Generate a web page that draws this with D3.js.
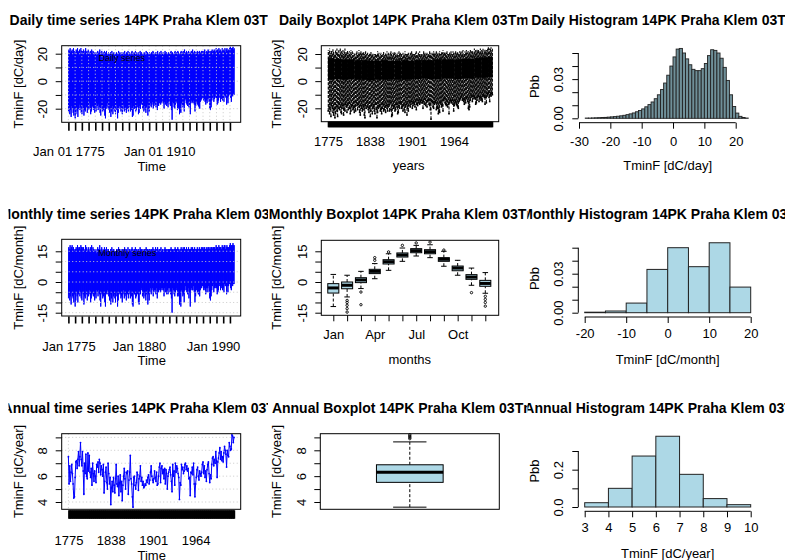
<!DOCTYPE html>
<html><head><meta charset="utf-8">
<script src="https://d3js.org/d3.v7.min.js"></script>
<style>
html,body{margin:0;padding:0;background:#fff;}
svg{display:block;font-family:"Liberation Sans",Arial,Helvetica,sans-serif;}
</style></head><body>
<svg id="chart" width="785" height="560"></svg>
<script>
// ---------------- DATA ----------------
const firstYear = 1775;
// annual extremes of the daily series (dC/day), 1775..2021
const dailyMax = [
23,22,24,21,22,23,21,24,22,20, 21,23,22,24,21,22,23,20,24,22,
22,21,23,20,22,24,21,22,20,23, 21,20,22,21,23,20,22,21,19,21,
20,19,21,22,20,21,23,20,21,22, 20,21,19,22,20,21,22,20,19,21,
20,19,21,20,22,19,20,21,19,20, 19,21,20,19,22,20,21,19,20,21,
20,19,21,22,20,19,21,20,22,19, 21,20,19,21,22,20,19,21,20,22,
20,21,19,20,21,19,22,20,21,19, 20,19,21,20,19,22,20,21,19,20,
21,20,19,21,20,22,21,19,20,21, 20,21,22,19,20,21,20,22,19,20,
21,19,20,22,20,21,19,20,21,20, 20,21,22,20,21,19,20,21,22,20,
21,20,22,21,20,19,21,22,20,21, 22,21,23,20,21,22,20,21,22,20,
21,20,22,21,23,20,21,22,21,20, 21,22,20,21,22,21,20,22,21,22,
21,22,23,20,21,22,21,23,22,21, 22,21,22,23,21,22,23,22,21,24,
22,23,21,24,22,23,22,21,24,22, 23,22,24,21,23,24,22,23,22,24,
25,23,24,24,25,23,24];
const dailyMin = [
-22,-19,-24,-21,-26,-18,-20,-23,-25,-21, -27,-24,-19,-22,-26,-20,-17,-21,-19,-23,
-24,-18,-20,-25,-21,-22,-17,-19,-23,-18, -21,-16,-20,-24,-22,-19,-18,-21,-20,-23,
-19,-22,-16,-18,-21,-17,-19,-23,-25,-18, -20,-22,-21,-19,-25,-27,-18,-20,-16,-19,
-21,-23,-20,-26,-22,-18,-24,-20,-19,-22, -24,-17,-21,-27,-23,-20,-18,-19,-22,-21,
-24,-20,-17,-22,-21,-19,-23,-18,-20,-22, -19,-17,-22,-16,-21,-26,-25,-18,-20,-19,
-22,-21,-17,-19,-24,-23,-18,-20,-16,-17, -20,-19,-22,-18,-21,-23,-19,-17,-25,-20,
-22,-18,-16,-19,-17,-15,-20,-18,-16,-17, -19,-15,-21,-17,-18,-16,-14,-17,-15,-16,
-14,-16,-20,-15,-17,-13,-18,-16,-19,-15, -14,-17,-18,-21,-28,-15,-16,-19,-20,-17,
-15,-16,-21,-19,-20,-24,-22,-23,-16,-17, -19,-18,-22,-14,-13,-16,-17,-18,-15,-19,
-17,-24,-16,-14,-15,-16,-14,-17,-22,-18, -16,-15,-17,-18,-19,-20,-15,-14,-13,-12,
-11,-14,-13,-15,-17,-14,-16,-13,-12,-15, -20,-21,-19,-14,-12,-11,-15,-13,-11,-12,
-13,-17,-16,-14,-12,-11,-15,-13,-12,-14, -13,-15,-10,-11,-12,-17,-12,-16,-11,-10,
-9,-12,-15,-10,-11,-9,-10];
// annual extremes of the monthly series (dC/month), 1775..2021
const monthlyMax = [
17,16,18,16,17,18,16,17,16,15, 16,17,16,18,17,16,17,16,18,17,
17,16,17,15,16,18,17,16,15,17, 16,15,17,16,18,15,17,16,15,16,
15,14,16,17,16,16,18,15,16,17, 15,16,15,17,15,16,17,16,15,16,
15,15,16,16,17,15,16,16,15,15, 15,16,16,15,17,16,16,15,15,16,
16,15,16,17,16,15,16,15,17,15, 16,16,15,16,17,16,15,16,16,17,
16,16,15,16,16,15,17,16,16,15, 16,15,16,16,15,17,16,16,15,16,
16,16,15,16,16,17,16,15,16,17, 16,16,17,15,16,16,16,17,15,16,
16,15,16,17,16,16,15,16,16,16, 16,16,17,16,16,15,16,16,17,16,
16,16,17,16,16,15,16,17,16,16, 17,16,17,16,16,17,16,16,17,16,
16,16,17,16,17,16,16,17,16,16, 16,17,16,16,17,16,16,17,16,17,
16,17,17,16,16,17,16,17,17,16, 17,16,17,17,16,17,17,17,16,18,
17,17,16,18,17,17,17,16,18,17, 17,18,18,16,17,18,17,17,17,18,
19,17,18,18,19,18,18];
const monthlyMin = [
-8,-6,-9,-7,-11,-5,-7,-8,-10,-6, -12,-9,-5,-7,-10,-6,-4,-7,-5,-8,
-9,-5,-6,-11,-7,-8,-4,-6,-9,-5, -7,-4,-6,-10,-8,-6,-5,-7,-6,-9,
-6,-8,-4,-5,-7,-4,-6,-9,-12,-5, -6,-8,-7,-6,-10,-12,-5,-6,-4,-6,
-7,-9,-6,-11,-8,-5,-10,-7,-6,-8, -10,-5,-7,-12,-9,-6,-5,-6,-8,-7,
-10,-6,-4,-8,-7,-6,-9,-5,-6,-8, -6,-4,-8,-4,-7,-11,-12,-5,-6,-6,
-8,-7,-4,-6,-10,-11,-5,-6,-3,-4, -7,-6,-8,-5,-7,-9,-6,-4,-11,-6,
-9,-5,-3,-6,-4,-3,-7,-5,-4,-4, -6,-3,-8,-4,-5,-4,-3,-5,-3,-4,
-3,-4,-7,-3,-5,-2,-6,-4,-6,-3, -3,-5,-6,-8,-15,-3,-4,-6,-7,-5,
-3,-4,-7,-6,-7,-11,-10,-12,-4,-5, -7,-6,-10,-4,-2,-4,-5,-6,-3,-8,
-5,-12,-4,-3,-4,-4,-2,-5,-10,-7, -4,-3,-5,-6,-6,-7,-4,-3,-3,-2,
-2,-4,-3,-4,-6,-3,-5,-3,-2,-5, -8,-9,-7,-4,-2,-1,-5,-3,-2,-3,
-3,-6,-5,-4,-2,-1,-4,-3,-2,-4, -3,-5,-1,-2,-2,-6,-2,-5,-2,-1,
-1,-3,-4,-1,-2,-1,-1];
// annual mean series (dC/year), 1775..2021
const annualMean = [
7.5,5.4,6.8,5.6,6.3,6.9,6.2,5.4,4.3,4.4, 5.9,7.1,7.2,6.6,7.3,7.9,6.8,7.5,8.6,7.3,
6.8,7.9,6.4,4.6,7.0,6.2,7.7,6.0,5.8,7.8, 6.4,7.6,6.3,5.9,6.6,5.3,7.0,6.2,5.6,6.4,
6.0,5.5,6.9,6.7,7.1,6.3,7.3,7.0,6.1,6.8, 6.5,6.0,6.9,4.7,5.6,6.3,6.7,5.5,5.0,7.0,
6.2,5.4,5.9,3.8,5.1,5.6,4.8,5.9,5.3,4.7, 5.8,6.9,5.4,5.2,6.0,4.5,5.5,6.1,4.8,5.6,
4.1,5.3,6.0,6.6,5.8,5.0,6.3,6.2,6.4,4.6, 5.7,6.3,7.6,5.8,5.4,4.4,3.6,5.9,6.0,5.3,
5.0,5.5,6.3,6.1,4.9,5.8,6.0,6.8,5.6,5.9, 5.3,5.6,5.1,5.2,5.4,5.3,5.7,5.5,5.9,6.1,
5.4,5.7,6.3,6.8,6.0,5.7,5.5,5.8,6.4,5.9, 5.6,6.3,5.3,5.4,6.0,6.7,7.0,5.5,6.6,6.8,
6.2,6.5,5.8,6.6,5.4,6.5,6.2,5.0,6.0,6.3, 6.5,6.7,6.1,5.6,4.8,6.9,6.0,6.4,5.3,7.0,
6.3,6.8,6.6,6.2,5.9,4.2,5.5,5.3,6.9,6.5, 6.7,6.2,6.4,6.9,7.0,6.5,6.8,6.4,6.6,5.8,
5.9,4.5,6.3,6.2,6.7,6.1,7.0,5.4,4.4,5.4, 5.9,6.5,6.7,6.0,5.7,6.4,6.2,6.0,6.3,6.9,
7.1,6.2,6.8,5.9,6.4,5.6,6.5,6.9,7.1,6.2, 5.5,6.1,5.8,6.9,7.4,7.5,6.8,7.3,7.0,7.9,
7.2,5.9,7.1,7.4,7.8,8.2,7.3,7.9,7.2,7.5, 7.1,7.8,8.3,8.0,7.7,6.7,8.0,7.6,7.5,8.6,
8.3,8.0,8.1,9.2,9.1,8.6,9.0];
const years = annualMean.map((d, i) => firstYear + i);

// daily boxplot: box band per decade
const decadeStart = [1775,1785,1795,1805,1815,1825,1835,1845,1855,1865,1875,1885,1895,1905,1915,1925,1935,1945,1955,1965,1975,1985,1995,2005,2015];
const dailyBoxLow  = [1,1.5,1,1.5,1,1,0.5,1,1,1.5,1,1,1.5,1.5,2,1.5,1.5,2,2,1.5,2,2,2.5,2.5,3];
const dailyBoxHigh = [17,16.5,16,16,15.5,15.5,15,15,15.5,15,15,15.5,15,15.5,15.5,15.5,16,16,16,16,16.5,16.5,17,17.5,18];

// daily histogram: 1-degree bins from -28
const dailyHistStart = -28;
const dailyHistDensity = [
0.0002,0.0002,0.0003,0.0004,0.0005,0.0006,0.0007,0.0009,0.0011,0.0013,0.0016,0.0019,0.0023,0.0028,0.0034,0.0041,0.0050,0.0060,
0.0072,0.0088,0.0105,0.0125,0.0150,0.0180,0.0220,0.0270,0.0330,0.0400,
0.0470,0.0530,0.0535,0.0500,0.0455,0.0410,0.0375,0.0365,0.0365,0.0380,
0.0420,0.0480,0.0525,0.0520,0.0500,0.0460,0.0390,0.0290,0.0180,0.0090,0.0040,0.0015,0.0006,0.0002];
const monthlyHistBreaks = [-20,-15,-10,-5,0,5,10,15,20];
const monthlyHistDensity = [0.0004,0.0013,0.0074,0.0333,0.0500,0.0354,0.0538,0.0197];
const annualHistBreaks = [3,4,5,6,7,8,9,10];
const annualHistDensity = [0.023,0.100,0.273,0.379,0.175,0.045,0.0125];

// monthly boxplot
const months = ["Jan","Feb","Mar","Apr","May","Jun","Jul","Aug","Sep","Oct","Nov","Dec"];
const monthWhiskLow  = [-12.0,-7.3,-3.2,1.6,5.7,10.1,12.7,11.9,7.7,3.3,-1.6,-5.5];
const monthQ1        = [-5.4,-3.3,-0.3,4.1,8.8,12.2,14.3,13.8,10.1,5.5,1.3,-2.1];
const monthMedian    = [-2.9,-1.6,1.0,5.2,9.9,13.2,15.3,14.8,11.1,6.8,2.4,-0.7];
const monthQ3        = [-0.8,0.0,2.1,6.2,10.9,14.2,16.3,15.8,11.9,7.8,3.6,0.8];
const monthWhiskHigh = [3.7,3.3,5.2,9.0,13.8,16.6,17.9,18.2,15.0,10.6,6.8,4.6];
const monthOutliers  = [[],[-9.0,-10.0,-11.4,-13.0,-14.7],[-4.9,-11.1],[10.6,11.9],[14.7],[17.9],[19.1],[19.5],[15.6],[],[-5.2],[-7.0,-8.5,-10.0,-11.8]];

// annual boxplot
const annualBoxStats = [3.6, 5.52, 6.3, 6.88, 8.65]; // low whisker, Q1, median, Q3, high whisker
const annualBoxOutliers = [8.9, 9.0, 9.1, 9.2];

// ticks and labels
const dailyYTicks = [-20,-10,0,10,20], dailyYLabels = [-20,0,20];
const monthlyYTicks = [-15,-10,-5,0,5,10,15], monthlyYLabels = [-15,0,15];
const annualYTicks = [4,5,6,7,8,9], annualYLabels = [4,6,8];
const histYTicks = [0,0.01,0.02,0.03,0.04,0.05], histYLabels = [0,0.03];
const annualHistYTicks = [0,0.1,0.2,0.3], annualHistYLabels = [0,0.2];
const dailyHistXTicks = [-30,-20,-10,0,10,20];
const monthlyHistXTicks = [-20,-10,0,10,20];
const annualHistXTicks = [3,4,5,6,7,8,9,10];
const tsTickYears = [1775,1785,1795,1805,1815,1825,1835,1845,1855,1865,1875,1885,1895,1905,1915,1925,1935,1945,1955,1965,1975,1985,1995,2005,2015];
const dailyTsLabels = [[1775,"Jan 01 1775"],[1910,"Jan 01 1910"]];
const monthlyTsLabels = [[1775,"Jan 1775"],[1880,"Jan 1880"],[1990,"Jan 1990"]];
const yearLabels = [1775,1838,1901,1964];
const station = "14PK Praha Klem 03Tmin";

// ---------------- DRAWING ----------------
const svg = d3.select("#chart");
const defs = svg.append("defs");
let cid = 0;
function clipRect(x, y, w, h) {
  const id = "clip" + (cid++);
  defs.append("clipPath").attr("id", id).append("rect")
    .attr("x", x).attr("y", y).attr("width", w).attr("height", h);
  return "url(#" + id + ")";
}
const GRID = "#c9c9c9";
const LB = "#add8e6";

function addText(parent, x, y, s, o = {}) {
  const t = parent.append("text").attr("x", x).attr("y", y).text(s)
    .attr("text-anchor", "middle").attr("font-size", o.size || 13).attr("fill", "#000")
    .attr("dominant-baseline", "central");
  if (o.bold) t.attr("font-weight", "bold");
  if (o.rotate) t.attr("transform", `rotate(-90 ${x} ${y})`);
  return t;
}
const colClip = [[8.5, 268], [268, 527.5], [527.5, 787]];
const titleCX = [151.2, 410, 671];
const titleY = [24.5, 218.5, 412.5];
function title(s, col, row) {
  const g = svg.append("g").attr("clip-path", clipRect(colClip[col][0], 0, colClip[col][1] - colClip[col][0], 560));
  g.append("text").attr("x", titleCX[col]).attr("y", titleY[row]).attr("text-anchor", "middle")
    .attr("font-size", 14).attr("font-weight", "bold").attr("fill", "#000").text(s);
}
function leftAxis(scale, x, ticks, labels, fmt, labelCX, line) {
  const g = svg.append("g").attr("transform", `translate(${x},0)`)
    .call(d3.axisLeft(scale).tickValues(ticks).tickSize(6).tickSizeOuter(0)
      .tickFormat(d => labels.includes(d) ? fmt(d) : ""));
  g.attr("font-family", null).attr("font-size", 13);
  g.select(".domain").remove();
  g.selectAll(".tick line").attr("stroke", "#000");
  g.selectAll(".tick text").attr("x", null).attr("dy", null).attr("fill", "#000")
    .attr("text-anchor", "middle").attr("dominant-baseline", "central")
    .attr("transform", `translate(${labelCX - x},0) rotate(-90)`);
  if (line) g.append("line").attr("x1", 0).attr("x2", 0)
    .attr("y1", scale(ticks[0])).attr("y2", scale(ticks[ticks.length - 1])).attr("stroke", "#000");
  return g;
}
function bottomAxis(scale, y, ticks, fmt, labelCY, len, width, line) {
  const g = svg.append("g").attr("transform", `translate(0,${y})`)
    .call(d3.axisBottom(scale).tickValues(ticks).tickSize(len).tickSizeOuter(0).tickFormat(fmt));
  g.attr("font-family", null).attr("font-size", 13);
  g.select(".domain").remove();
  g.selectAll(".tick line").attr("stroke", "#000").attr("stroke-width", width);
  g.selectAll(".tick text").attr("y", labelCY - y).attr("dy", null)
    .attr("dominant-baseline", "central").attr("fill", "#000");
  if (line) g.append("line").attr("y1", 0).attr("y2", 0)
    .attr("x1", scale(ticks[0])).attr("x2", scale(ticks[ticks.length - 1])).attr("stroke", "#000");
  return g;
}
function frame(x0, y0, x1, y1) {
  svg.append("rect").attr("x", x0).attr("y", y0).attr("width", x1 - x0).attr("height", y1 - y0)
    .attr("fill", "none").attr("stroke", "#000").attr("stroke-width", 1);
}
function hGrid(g, y, vals, x0, x1) {
  g.selectAll(null).data(vals).join("line")
    .attr("x1", x0).attr("x2", x1).attr("y1", d => y(d)).attr("y2", d => y(d))
    .attr("stroke", GRID).attr("stroke-dasharray", "1,2.5");
}
const tsDomain = [1765.05, 2031];
const zig = (x, y) => d3.line().x(d => x(d[0])).y(d => y(d[1]));

// ===== Row 1 =====
// Panel 1: daily time series
{
  const X0 = 61.7, X1 = 240.7, Y0 = 45.7, Y1 = 122.3;
  const x = d3.scaleLinear().domain(tsDomain).range([X0, X1]);
  const y = d3.scaleLinear().domain([-20, 20]).range([108.7, 53.7]);
  const g = svg.append("g").attr("clip-path", clipRect(X0, Y0, X1 - X0, Y1 - Y0));
  const pts = years.flatMap((yr, i) => [[yr + 0.1, dailyMin[i]], [yr + 0.6, dailyMax[i]]]);
  g.append("path").attr("d", zig(x, y)(pts)).attr("fill", "none").attr("stroke", "#0000ff").attr("stroke-width", 1);
  hGrid(g, y, dailyYTicks, X0, X1);
  g.selectAll(null).data(tsTickYears).join("line")
    .attr("x1", d => x(d)).attr("x2", d => x(d)).attr("y1", Y0).attr("y2", Y1)
    .attr("stroke", GRID).attr("stroke-dasharray", "1,2.5");
  addText(g, 121.7, 58.3, "Daily series", {size: 9});
  frame(X0, Y0, X1, Y1);
  leftAxis(y, X0, dailyYTicks, dailyYLabels, String, 42.7);
  bottomAxis(x, Y1 + 0.5, tsTickYears, () => "", 0, 8, 1.6);
  bottomAxis(x, Y1, dailyTsLabels.map(d => d[0]), d => dailyTsLabels.find(e => e[0] === d)[1], 151.8, 0, 0);
  addText(svg, 151.7, 166.4, "Time");
  addText(svg, 18.3, 84, "TminF [dC/day]", {rotate: true});
  title("Daily time series " + station, 0, 0);
}
// Panel 2: daily boxplot
{
  const X0 = 321.3, X1 = 498.7, Y0 = 45.7, Y1 = 121.7;
  const x = d3.scaleLinear().domain(tsDomain).range([X0, X1]);
  const y = d3.scaleLinear().domain([-20, 20]).range([108.3, 54]);
  const g = svg.append("g").attr("clip-path", clipRect(X0, Y0, X1 - X0, Y1 - Y0));
  g.selectAll(null).data(years).join("line")
    .attr("x1", d => x(d + 0.5)).attr("x2", d => x(d + 0.5))
    .attr("y1", (d, i) => y(dailyMin[i])).attr("y2", (d, i) => y(dailyMax[i]))
    .attr("stroke", "#000").attr("stroke-width", 1.1).attr("stroke-dasharray", "3,1.3");
  g.selectAll(null).data(decadeStart).join("rect")
    .attr("x", d => x(d)).attr("width", d => x(Math.min(d + 10, 2022)) - x(d))
    .attr("y", (d, i) => y(dailyBoxHigh[i])).attr("height", (d, i) => y(dailyBoxLow[i]) - y(dailyBoxHigh[i]))
    .attr("fill", "#000");
  g.selectAll(null).data(years).join("rect")
    .attr("x", d => x(d + 0.5) - 0.8).attr("y", (d, i) => y(dailyMin[i]) - 0.8)
    .attr("width", 1.6).attr("height", 1.6).attr("fill", "#000");
  frame(X0, Y0, X1, Y1);
  leftAxis(y, X0, dailyYTicks, dailyYLabels, String, 302);
  bottomAxis(x, Y1, years, d => yearLabels.includes(d) ? String(d) : "", 141.7, 5.6, 1.5);
  addText(svg, 408.7, 165, "years");
  addText(svg, 276.3, 84, "TminF [dC/day]", {rotate: true});
  title("Daily Boxplot " + station, 1, 0);
}
// Panel 3: daily histogram
{
  const x = d3.scaleLinear().domain([-30, 20]).range([579, 735.7]);
  const y = d3.scaleLinear().domain([0, 0.05]).range([118.3, 53]);
  svg.append("g").selectAll(null).data(dailyHistDensity).join("rect")
    .attr("x", (d, i) => x(dailyHistStart + i)).attr("width", (d, i) => x(dailyHistStart + i + 1) - x(dailyHistStart + i))
    .attr("y", d => y(d)).attr("height", d => y(0) - y(d))
    .attr("fill", "#6f8f98").attr("stroke", "#222").attr("stroke-width", 0.9);
  leftAxis(y, 578.3, histYTicks, histYLabels, d3.format(".2f"), 558.5, true);
  bottomAxis(x, 122.7, dailyHistXTicks, String, 141.7, 6, 1, true);
  addText(svg, 667.7, 165, "TminF [dC/day]");
  addText(svg, 534, 86.5, "Pbb", {rotate: true});
  title("Daily Histogram " + station, 2, 0);
}

// ===== Row 2 =====
// Panel 4: monthly time series
{
  const X0 = 61.7, X1 = 240.7, Y0 = 239.3, Y1 = 316;
  const x = d3.scaleLinear().domain(tsDomain).range([X0, X1]);
  const y = d3.scaleLinear().domain([-15, 15]).range([312.7, 251.3]);
  const g = svg.append("g").attr("clip-path", clipRect(X0, Y0, X1 - X0, Y1 - Y0));
  const pts = years.flatMap((yr, i) => [[yr + 0.05, monthlyMin[i]], [yr + 0.55, monthlyMax[i]]]);
  g.append("path").attr("d", zig(x, y)(pts)).attr("fill", "none").attr("stroke", "#0000ff").attr("stroke-width", 1);
  hGrid(g, y, monthlyYTicks, X0, X1);
  addText(g, 127.3, 252.5, "Monthly series", {size: 9});
  frame(X0, Y0, X1, Y1);
  leftAxis(y, X0, monthlyYTicks, monthlyYLabels, String, 42.7);
  bottomAxis(x, Y1 + 0.5, tsTickYears, () => "", 0, 7, 1.6);
  bottomAxis(x, Y1, monthlyTsLabels.map(d => d[0]), d => monthlyTsLabels.find(e => e[0] === d)[1], 346.2, 0, 0);
  addText(svg, 151.7, 360.8, "Time");
  addText(svg, 18.3, 277.7, "TminF [dC/month]", {rotate: true});
  title("Monthly time series " + station, 0, 1);
}
// Panel 5: monthly boxplot
{
  const X0 = 321.3, X1 = 498.7, Y0 = 240.3, Y1 = 315.3;
  const x = d3.scalePoint().domain(months).range([333.3, 485.3]);
  const y = d3.scaleLinear().domain([-15, 15]).range([312.7, 251.3]);
  const bw = x.step() * 0.8;
  const g = svg.append("g");
  const b = g.selectAll(null).data(months).join("g");
  b.append("line").attr("x1", d => x(d)).attr("x2", d => x(d))
    .attr("y1", (d, i) => y(monthWhiskLow[i])).attr("y2", (d, i) => y(monthQ1[i]))
    .attr("stroke", "#000").attr("stroke-dasharray", "3,2");
  b.append("line").attr("x1", d => x(d)).attr("x2", d => x(d))
    .attr("y1", (d, i) => y(monthQ3[i])).attr("y2", (d, i) => y(monthWhiskHigh[i]))
    .attr("stroke", "#000").attr("stroke-dasharray", "3,2");
  [monthWhiskLow, monthWhiskHigh].forEach(arr => {
    b.append("line").attr("x1", d => x(d) - bw / 4).attr("x2", d => x(d) + bw / 4)
      .attr("y1", (d, i) => y(arr[i])).attr("y2", (d, i) => y(arr[i])).attr("stroke", "#000");
  });
  b.append("rect").attr("x", d => x(d) - bw / 2).attr("width", bw)
    .attr("y", (d, i) => y(monthQ3[i])).attr("height", (d, i) => y(monthQ1[i]) - y(monthQ3[i]))
    .attr("fill", LB).attr("stroke", "#000");
  b.append("line").attr("x1", d => x(d) - bw / 2).attr("x2", d => x(d) + bw / 2)
    .attr("y1", (d, i) => y(monthMedian[i])).attr("y2", (d, i) => y(monthMedian[i]))
    .attr("stroke", "#000").attr("stroke-width", 3);
  b.each(function (d, i) {
    d3.select(this).selectAll("circle").data(monthOutliers[i]).join("circle")
      .attr("cx", x(d)).attr("cy", v => y(v)).attr("r", 1.2)
      .attr("fill", "none").attr("stroke", "#000").attr("stroke-width", 0.9);
  });
  frame(X0, Y0, X1, Y1);
  leftAxis(y, X0, monthlyYTicks, monthlyYLabels, String, 302);
  bottomAxis(x, Y1, months, d => ["Jan","Apr","Jul","Oct"].includes(d) ? d : "", 334.3, 6, 1);
  addText(svg, 409.7, 359.3, "months");
  addText(svg, 276.3, 277.7, "TminF [dC/month]", {rotate: true});
  title("Monthly Boxplot " + station, 1, 1);
}
// Panel 6: monthly histogram
{
  const x = d3.scaleLinear().domain([-20, 20]).range([584.7, 750.7]);
  const y = d3.scaleLinear().domain([0, 0.05]).range([312.7, 247.7]);
  svg.append("g").selectAll(null).data(monthlyHistDensity).join("rect")
    .attr("x", (d, i) => x(monthlyHistBreaks[i])).attr("width", (d, i) => x(monthlyHistBreaks[i + 1]) - x(monthlyHistBreaks[i]))
    .attr("y", d => y(d)).attr("height", d => y(0) - y(d))
    .attr("fill", LB).attr("stroke", "#222").attr("stroke-width", 1);
  leftAxis(y, 578.3, histYTicks, histYLabels, d3.format(".2f"), 558.5, true);
  bottomAxis(x, 317, monthlyHistXTicks, String, 333.7, 6, 1, true);
  addText(svg, 667.7, 359.3, "TminF [dC/month]");
  addText(svg, 534, 278.5, "Pbb", {rotate: true});
  title("Monthly Histogram " + station, 2, 1);
}

// ===== Row 3 =====
// Panel 7: annual time series
{
  const X0 = 61.7, X1 = 240.7, Y0 = 433.7, Y1 = 509.3;
  const x = d3.scaleLinear().domain(tsDomain).range([X0, X1]);
  const y = d3.scaleLinear().domain([4, 8]).range([502, 450.3]);
  const g = svg.append("g").attr("clip-path", clipRect(X0, Y0, X1 - X0, Y1 - Y0));
  hGrid(g, y, annualYTicks, X0, X1);
  g.append("line").attr("x1", x(1775)).attr("x2", x(1775)).attr("y1", Y0).attr("y2", Y1)
    .attr("stroke", GRID).attr("stroke-dasharray", "1,2.5");
  g.append("path").attr("d", d3.line().x((d, i) => x(years[i])).y(d => y(d))(annualMean))
    .attr("fill", "none").attr("stroke", "#0000ff").attr("stroke-width", 1);
  g.selectAll(null).data(annualMean).join("circle")
    .attr("cx", (d, i) => x(years[i])).attr("cy", d => y(d)).attr("r", 0.9).attr("fill", "#0000ff");
  frame(X0, Y0, X1, Y1);
  leftAxis(y, X0, annualYTicks, annualYLabels, String, 42.7);
  bottomAxis(x, Y1 + 1, years, d => yearLabels.includes(d) ? String(d) : "", 540.5, 8.4, 1.5);
  addText(svg, 151.7, 555.1, "Time");
  addText(svg, 18.3, 471.5, "TminF [dC/year]", {rotate: true});
  title("Annual time series " + station, 0, 2);
}
// Panel 8: annual boxplot
{
  const X0 = 320.3, X1 = 499.3, Y0 = 433.7, Y1 = 509.3;
  const xb = d3.scaleBand().domain(["TminF"]).range([X0, X1]).paddingOuter(0.842);
  const y = d3.scaleLinear().domain([4, 8]).range([502, 450.3]);
  const w = xb.bandwidth(), cx = xb("TminF") + w / 2;
  const [lo, q1, med, q3, hi] = annualBoxStats;
  const g = svg.append("g");
  g.append("line").attr("x1", cx).attr("x2", cx).attr("y1", y(lo)).attr("y2", y(q1)).attr("stroke", "#000").attr("stroke-dasharray", "3,2");
  g.append("line").attr("x1", cx).attr("x2", cx).attr("y1", y(q3)).attr("y2", y(hi)).attr("stroke", "#000").attr("stroke-dasharray", "3,2");
  [lo, hi].forEach(v => g.append("line").attr("x1", cx - w / 4).attr("x2", cx + w / 4).attr("y1", y(v)).attr("y2", y(v)).attr("stroke", "#000"));
  g.append("rect").attr("x", cx - w / 2).attr("width", w).attr("y", y(q3)).attr("height", y(q1) - y(q3))
    .attr("fill", LB).attr("stroke", "#000");
  g.append("line").attr("x1", cx - w / 2).attr("x2", cx + w / 2).attr("y1", y(med)).attr("y2", y(med)).attr("stroke", "#000").attr("stroke-width", 3);
  g.selectAll("circle").data(annualBoxOutliers).join("circle").attr("cx", cx).attr("cy", d => y(d)).attr("r", 1.2)
    .attr("fill", "none").attr("stroke", "#000").attr("stroke-width", 0.9);
  frame(X0, Y0, X1, Y1);
  leftAxis(y, X0, annualYTicks, annualYLabels, String, 301.3);
  addText(svg, 276.3, 471.5, "TminF [dC/year]", {rotate: true});
  title("Annual Boxplot " + station, 1, 2);
}
// Panel 9: annual histogram
{
  const x = d3.scaleLinear().domain([3, 10]).range([584.7, 750.7]);
  const y = d3.scaleLinear().domain([0, 0.3]).range([507, 451]);
  svg.append("g").selectAll(null).data(annualHistDensity).join("rect")
    .attr("x", (d, i) => x(annualHistBreaks[i])).attr("width", (d, i) => x(annualHistBreaks[i + 1]) - x(annualHistBreaks[i]))
    .attr("y", d => y(d)).attr("height", d => y(0) - y(d))
    .attr("fill", LB).attr("stroke", "#222").attr("stroke-width", 1);
  leftAxis(y, 578.3, annualHistYTicks, annualHistYLabels, d3.format(".1f"), 558.5, true);
  bottomAxis(x, 511.3, annualHistXTicks, String, 528, 6, 1, true);
  addText(svg, 667.7, 553.7, "TminF [dC/year]");
  addText(svg, 534, 471, "Pbb", {rotate: true});
  title("Annual Histogram " + station, 2, 2);
}
</script>
</body></html>
